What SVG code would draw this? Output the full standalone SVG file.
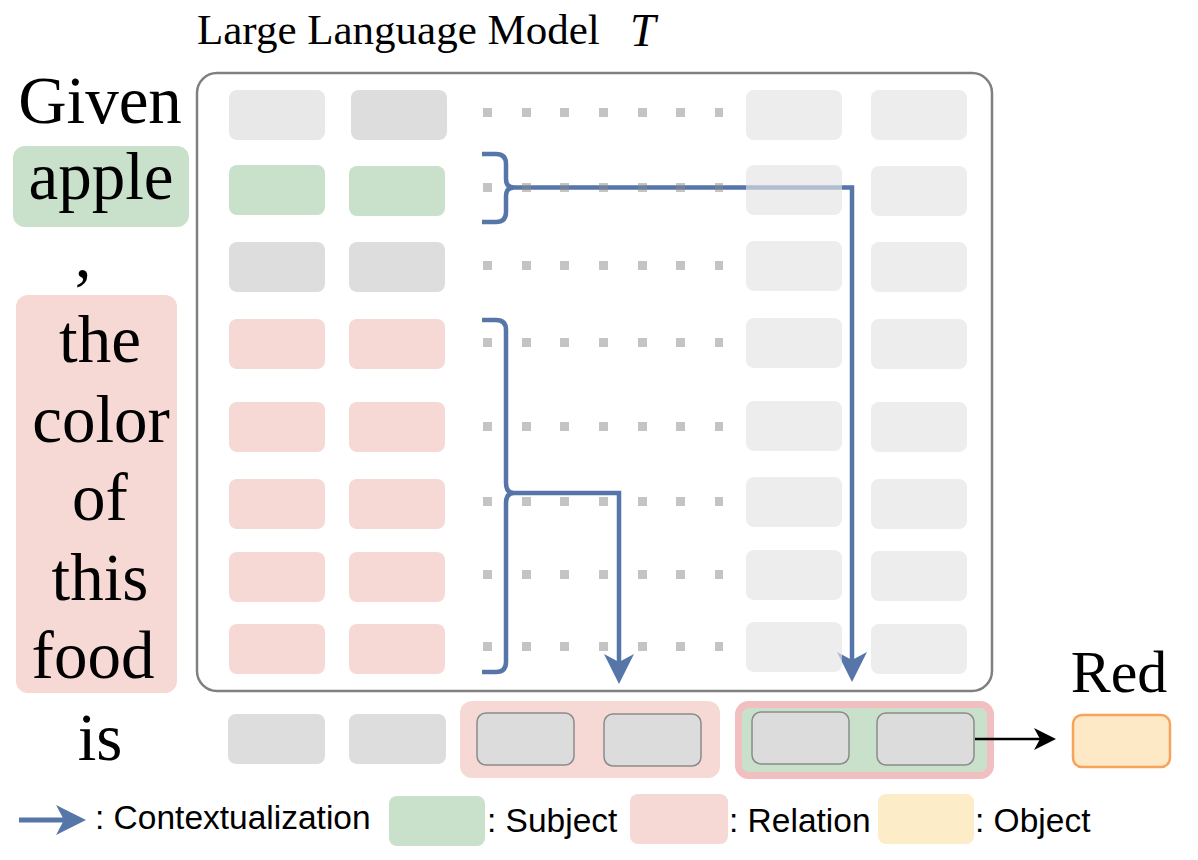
<svg xmlns="http://www.w3.org/2000/svg" width="1198" height="860" viewBox="0 0 1198 860">
<style>
.serif{font-family:"Liberation Serif","Times New Roman",serif;fill:#000}
.word{font-size:67px;text-anchor:middle}
.sans{font-family:"Liberation Sans",Arial,sans-serif;font-size:33.5px;fill:#000}
.g{fill:#dddddd}
.sub{fill:#c9e0cb}
.rel{fill:#f6d8d4}
.obj{fill:#fdecc8}
.rb{fill:#e4e4e4;opacity:0.65}
.dot{fill:#8a8a8a;opacity:0.5}
.blue{fill:none;stroke:#5676a9;stroke-width:4.5}
.tok{fill:#dcdcdc;stroke:#8a8a8a;stroke-width:1.5}
</style>
<defs>
<marker id="ab" markerUnits="userSpaceOnUse" viewBox="0 -15 30 30" refX="8" refY="0" markerWidth="30" markerHeight="30" orient="auto">
<path d="M0,-15 L30,0 L0,15 L8,0 Z" fill="#5676a9"/>
</marker>
<marker id="ak" markerUnits="userSpaceOnUse" viewBox="0 -11 22 22" refX="6" refY="0" markerWidth="22" markerHeight="22" orient="auto">
<path d="M0,-11 L22,0 L0,11 L6,0 Z" fill="#000"/>
</marker>
</defs>
<rect width="1198" height="860" fill="#fff"/>

<g id="title">
<text class="serif" x="197" y="44" font-size="43">Large Language Model</text>
<text class="serif" x="630" y="46" font-size="46" font-style="italic">T</text>
</g>

<g id="input-words">
<rect class="sub" x="13" y="146" width="176" height="81" rx="12"/>
<rect class="rel" x="16" y="295" width="161" height="398" rx="12"/>
<text class="serif word" x="100" y="123">Given</text>
<text class="serif word" x="101" y="199">apple</text>
<text class="serif word" x="83" y="277">,</text>
<text class="serif word" x="100" y="362">the</text>
<text class="serif word" x="101" y="442">color</text>
<text class="serif word" x="100" y="520">of</text>
<text class="serif word" x="100" y="600">this</text>
<text class="serif word" x="93" y="678">food</text>
<text class="serif word" x="100" y="760">is</text>
</g>

<g id="llm">
<rect x="197" y="73" width="795" height="618" rx="20" fill="none" stroke="#808080" stroke-width="2.5"/>
<rect x="229" y="90" width="96" height="50" rx="8" fill="#e8e8e8"/>
<rect class="g" x="351" y="90" width="96" height="50" rx="8"/>
<rect class="sub" x="229" y="165" width="96" height="50" rx="8"/>
<rect class="sub" x="349" y="166" width="96" height="50" rx="8"/>
<rect class="g" x="229" y="242" width="96" height="50" rx="8"/>
<rect class="g" x="349" y="242" width="96" height="50" rx="8"/>
<rect class="rel" x="229" y="319" width="96" height="50" rx="8"/>
<rect class="rel" x="349" y="319" width="96" height="50" rx="8"/>
<rect class="rel" x="229" y="402" width="96" height="50" rx="8"/>
<rect class="rel" x="349" y="402" width="96" height="50" rx="8"/>
<rect class="rel" x="229" y="479" width="96" height="50" rx="8"/>
<rect class="rel" x="349" y="479" width="96" height="50" rx="8"/>
<rect class="rel" x="229" y="552" width="96" height="50" rx="8"/>
<rect class="rel" x="349" y="552" width="96" height="50" rx="8"/>
<rect class="rel" x="229" y="624" width="96" height="50" rx="8"/>
<rect class="rel" x="349" y="624" width="96" height="50" rx="8"/>
</g>

<g id="bottom-row">
<rect class="g" x="228" y="714" width="97" height="50" rx="8"/>
<rect class="g" x="349" y="714" width="97" height="50" rx="8"/>
<rect class="rel" x="460" y="701" width="260" height="77" rx="12"/>
<rect class="tok" x="477" y="713" width="97" height="52" rx="9"/>
<rect class="tok" x="604" y="714" width="97" height="52" rx="9"/>
<rect x="738.5" y="704.5" width="252" height="71" rx="10" fill="#c9e0cb" stroke="#f1bfbf" stroke-width="7"/>
<rect class="tok" x="752" y="712" width="97" height="52" rx="9"/>
<rect class="tok" x="877" y="713" width="97" height="52" rx="9"/>
</g>

<g id="output">
<text class="serif" x="1119" y="692" font-size="60" text-anchor="middle">Red</text>
<rect x="1073" y="715" width="97" height="52" rx="9" fill="#fee9c6" stroke="#f8a35c" stroke-width="2.5"/>
</g>

<g id="connectors">
<path class="blue" d="M482,154 H496 Q506,154 506,164 V179 Q506,187.5 514,187.5 Q506,187.5 506,196 V212 Q506,222 496,222 H482"/>
<path class="blue" d="M514,187.5 H852 V660" marker-end="url(#ab)"/>
<path class="blue" d="M482,320 H496 Q506,320 506,330 V483 Q506,493 514,493 Q506,493 506,503 V662 Q506,672 496,672 H482"/>
<path class="blue" d="M514,493 H619 V662" marker-end="url(#ab)"/>
<line x1="975" y1="739" x2="1040" y2="739" stroke="#000" stroke-width="2.5" marker-end="url(#ak)"/>
</g>

<g id="dots">
<g transform="translate(0,108)"><rect class="dot" x="483" width="9" height="9"/><rect class="dot" x="522" width="9" height="9"/><rect class="dot" x="560" width="9" height="9"/><rect class="dot" x="599" width="9" height="9"/><rect class="dot" x="638" width="9" height="9"/><rect class="dot" x="676" width="9" height="9"/><rect class="dot" x="715" width="8" height="9"/></g>
<g transform="translate(0,183)"><rect class="dot" x="483" width="9" height="9"/><rect class="dot" x="522" width="9" height="9"/><rect class="dot" x="560" width="9" height="9"/><rect class="dot" x="599" width="9" height="9"/><rect class="dot" x="638" width="9" height="9"/><rect class="dot" x="676" width="9" height="9"/><rect class="dot" x="715" width="8" height="9"/></g>
<g transform="translate(0,261)"><rect class="dot" x="483" width="9" height="9"/><rect class="dot" x="522" width="9" height="9"/><rect class="dot" x="560" width="9" height="9"/><rect class="dot" x="599" width="9" height="9"/><rect class="dot" x="638" width="9" height="9"/><rect class="dot" x="676" width="9" height="9"/><rect class="dot" x="715" width="8" height="9"/></g>
<g transform="translate(0,338)"><rect class="dot" x="483" width="9" height="9"/><rect class="dot" x="522" width="9" height="9"/><rect class="dot" x="560" width="9" height="9"/><rect class="dot" x="599" width="9" height="9"/><rect class="dot" x="638" width="9" height="9"/><rect class="dot" x="676" width="9" height="9"/><rect class="dot" x="715" width="8" height="9"/></g>
<g transform="translate(0,422)"><rect class="dot" x="483" width="9" height="9"/><rect class="dot" x="522" width="9" height="9"/><rect class="dot" x="560" width="9" height="9"/><rect class="dot" x="599" width="9" height="9"/><rect class="dot" x="638" width="9" height="9"/><rect class="dot" x="676" width="9" height="9"/><rect class="dot" x="715" width="8" height="9"/></g>
<g transform="translate(0,497)"><rect class="dot" x="483" width="9" height="9"/><rect class="dot" x="522" width="9" height="9"/><rect class="dot" x="560" width="9" height="9"/><rect class="dot" x="599" width="9" height="9"/><rect class="dot" x="638" width="9" height="9"/><rect class="dot" x="676" width="9" height="9"/><rect class="dot" x="715" width="8" height="9"/></g>
<g transform="translate(0,570)"><rect class="dot" x="483" width="9" height="9"/><rect class="dot" x="522" width="9" height="9"/><rect class="dot" x="560" width="9" height="9"/><rect class="dot" x="599" width="9" height="9"/><rect class="dot" x="638" width="9" height="9"/><rect class="dot" x="676" width="9" height="9"/><rect class="dot" x="715" width="8" height="9"/></g>
<g transform="translate(0,642)"><rect class="dot" x="483" width="9" height="9"/><rect class="dot" x="522" width="9" height="9"/><rect class="dot" x="560" width="9" height="9"/><rect class="dot" x="599" width="9" height="9"/><rect class="dot" x="638" width="9" height="9"/><rect class="dot" x="676" width="9" height="9"/><rect class="dot" x="715" width="8" height="9"/></g>
</g>

<g id="llm-right-columns">
<rect class="rb" x="746" y="90" width="96" height="50" rx="8"/><rect class="rb" x="871" y="90" width="96" height="50" rx="8"/>
<rect class="rb" x="746" y="165" width="96" height="50" rx="8"/><rect class="rb" x="871" y="166" width="96" height="50" rx="8"/>
<rect class="rb" x="746" y="241" width="96" height="50" rx="8"/><rect class="rb" x="871" y="242" width="96" height="50" rx="8"/>
<rect class="rb" x="746" y="318" width="96" height="50" rx="8"/><rect class="rb" x="871" y="319" width="96" height="50" rx="8"/>
<rect class="rb" x="746" y="401" width="96" height="50" rx="8"/><rect class="rb" x="871" y="402" width="96" height="50" rx="8"/>
<rect class="rb" x="746" y="477" width="96" height="50" rx="8"/><rect class="rb" x="871" y="479" width="96" height="50" rx="8"/>
<rect class="rb" x="746" y="550" width="96" height="50" rx="8"/><rect class="rb" x="871" y="551" width="96" height="50" rx="8"/>
<rect class="rb" x="746" y="622" width="96" height="50" rx="8"/><rect class="rb" x="871" y="624" width="96" height="50" rx="8"/>
</g>

<g id="legend">
<line x1="19" y1="820" x2="64" y2="820" stroke="#5676a9" stroke-width="5" marker-end="url(#ab)"/>
<text class="sans" x="95" y="829">: Contextualization</text>
<rect class="sub" x="389" y="796" width="96" height="50" rx="8"/>
<text class="sans" x="487" y="832">: Subject</text>
<rect class="rel" x="630" y="794" width="98" height="50" rx="8"/>
<text class="sans" x="729" y="832">: Relation</text>
<rect class="obj" x="878" y="794" width="96" height="50" rx="8"/>
<text class="sans" x="975" y="832">: Object</text>
</g>
</svg>
